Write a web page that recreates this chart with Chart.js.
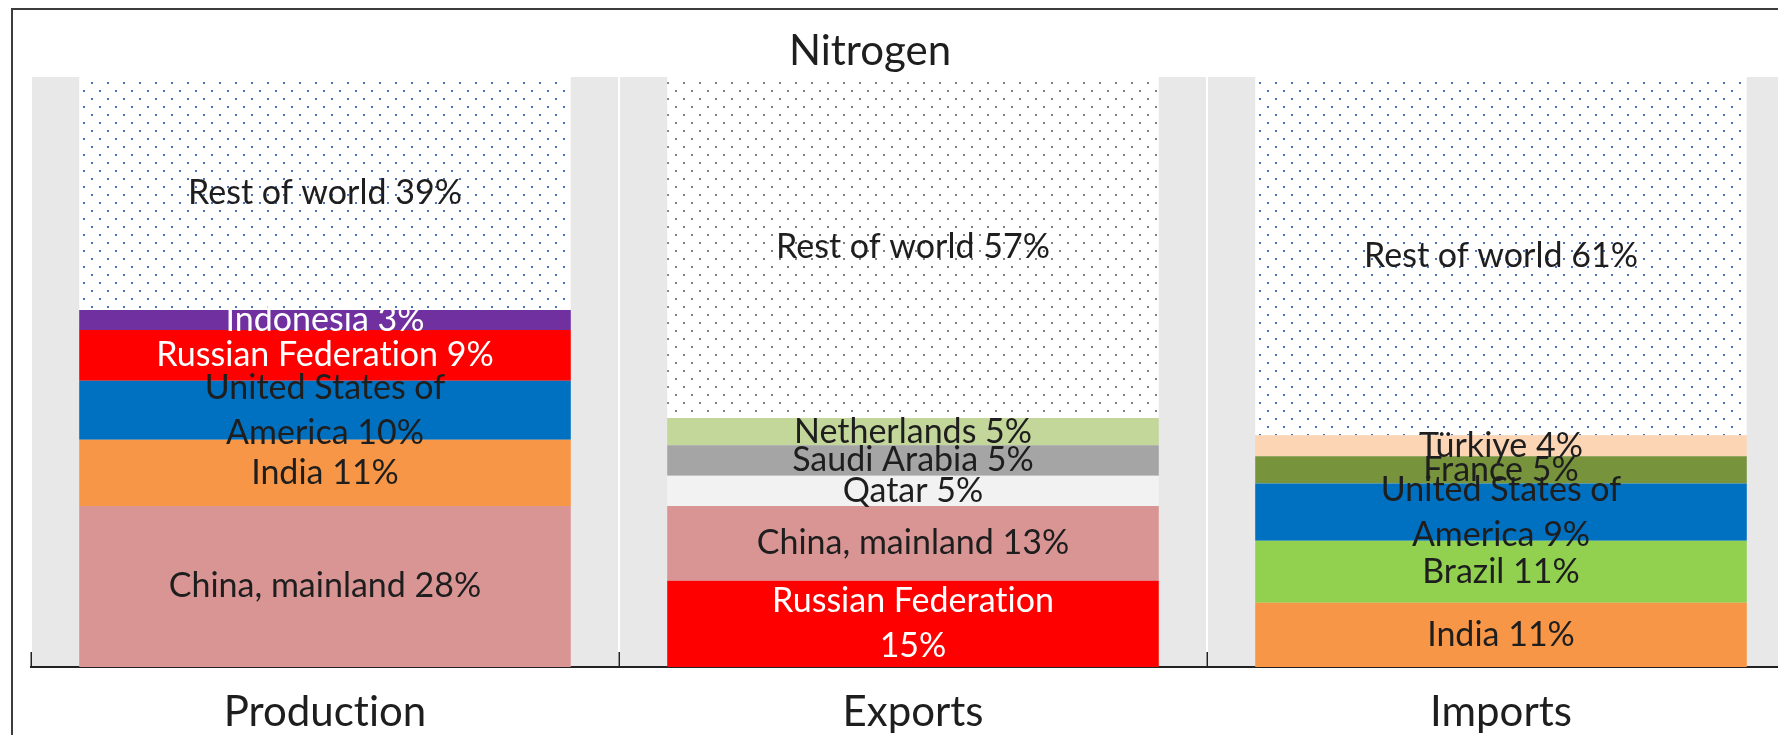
<!DOCTYPE html>
<html><head><meta charset="utf-8">
<script src="https://cdn.jsdelivr.net/npm/chart.js@4.4.1/dist/chart.umd.min.js"></script>
<style>
html,body{margin:0;padding:0;background:#fff;overflow:hidden;width:1778px;height:735px;}
#frame{position:absolute;left:11px;top:8px;width:2000px;height:2000px;border-left:2px solid #3c3c3c;border-top:2px solid #3c3c3c;}
#wrap{position:absolute;left:0;top:0;width:1806px;height:735px;}
</style></head><body>
<div id="frame"></div>
<div id="wrap"><canvas id="c" width="1806" height="735"></canvas></div>
<script>
const chartTitle = "Nitrogen";
const categories = ["Production", "Exports", "Imports"];

// segments listed bottom -> top, shares in % of total
const productionShares = [27.3, 11.2, 10.0, 8.6, 3.4, 39.5];
const productionLabels = ["China, mainland 28%", "India 11%", "United States of\nAmerica 10%", "Russian Federation 9%", "Indonesia 3%", "Rest of world 39%"];
const productionColors = ["#D99594", "#F79646", "#0070C0", "#FF0000", "#7030A0", "dots-blue"];
const productionTextColors = ["#1e1e1e", "#1e1e1e", "#1e1e1e", "#ffffff", "#ffffff", "#1e1e1e"];

const exportShares = [14.6, 12.7, 5.1, 5.2, 4.6, 57.8];
const exportLabels = ["Russian Federation\n15%", "China, mainland 13%", "Qatar 5%", "Saudi Arabia 5%", "Netherlands 5%", "Rest of world 57%"];
const exportColors = ["#FF0000", "#D99594", "#F2F2F2", "#A5A5A5", "#C4D79B", "dots-gray"];
const exportTextColors = ["#ffffff", "#1e1e1e", "#1e1e1e", "#1e1e1e", "#1e1e1e", "#1e1e1e"];

const importShares = [10.9, 10.5, 9.7, 4.6, 3.6, 60.7];
const importLabels = ["India 11%", "Brazil 11%", "United States of\nAmerica 9%", "France 5%", "Türkiye 4%", "Rest of world 61%"];
const importColors = ["#F79646", "#92D050", "#0070C0", "#77933C", "#FCD5B5", "dots-blue"];
const importTextColors = ["#1e1e1e", "#1e1e1e", "#1e1e1e", "#1e1e1e", "#1e1e1e", "#1e1e1e"];

const FONT = "Lato";
// avoid the "ti" ligature of Lato (the original font has none)
const noLig = s => s.replace(/ti/g, 't\u200Ci').replace(/fi/g, 'f\u200Ci');

function dotPattern(ctx, color) {
  const c = document.createElement('canvas');
  c.width = 16; c.height = 16;
  const g = c.getContext('2d');
  g.fillStyle = '#ffffff'; g.fillRect(0, 0, 16, 16);
  g.fillStyle = color;
  g.fillRect(11, 2, 2, 2);
  g.fillRect(3, 10, 2, 2);
  return ctx.createPattern(c, 'repeat');
}

function build() {
  const canvas = document.getElementById('c');
  const ctx = canvas.getContext('2d');
  const patterns = {
    'dots-blue': dotPattern(ctx, '#4472C4'),
    'dots-gray': dotPattern(ctx, '#7F7F7F')
  };
  const fill = c => patterns[c] || c;

  const shares = [productionShares, exportShares, importShares];
  const labels = [productionLabels, exportLabels, importLabels];
  const colors = [productionColors, exportColors, importColors];
  const textColors = [productionTextColors, exportTextColors, importTextColors];

  const datasets = [];
  for (let i = 0; i < productionShares.length; i++) {
    datasets.push({
      label: 'level ' + i,
      data: shares.map(s => s[i]),
      backgroundColor: colors.map(c => fill(c[i])),
      borderWidth: 0,
      barPercentage: 0.836,
      categoryPercentage: 1.0
    });
  }

  const plotBg = {
    id: 'plotBg',
    beforeDraw(chart) {
      const { ctx, chartArea: a } = chart;
      ctx.save();
      ctx.fillStyle = '#E8E8E8';
      ctx.fillRect(a.left, a.top, a.right - a.left, a.bottom - a.top);
      ctx.restore();
    }
  };

  const segLabels = {
    id: 'segLabels',
    afterDatasetsDraw(chart) {
      const { ctx } = chart;
      ctx.save();
      ctx.font = '34px ' + FONT;
      ctx.textAlign = 'center';
      ctx.textBaseline = 'middle';
      const lh = 45;
      chart.data.datasets.forEach((ds, i) => {
        const meta = chart.getDatasetMeta(i);
        meta.data.forEach((bar, j) => {
          const lines = labels[j][i].split('\n');
          const cy = (bar.y + bar.base) / 2;
          ctx.fillStyle = textColors[j][i];
          lines.forEach((ln, k) => {
            ctx.fillText(noLig(ln), bar.x, cy + (k - (lines.length - 1) / 2) * lh);
          });
        });
      });
      ctx.restore();
    }
  };

  const innerTicks = {
    id: 'innerTicks',
    afterDraw(chart) {
      const { ctx, chartArea: a } = chart;
      const xs = chart.scales.x;
      const band = xs.getPixelForValue(1) - xs.getPixelForValue(0);
      ctx.save();
      ctx.strokeStyle = '#222222';
      ctx.lineWidth = 1.5;
      for (let k = 0; k <= categories.length; k++) {
        const x = Math.round(xs.getPixelForValue(0) - band / 2 + k * band) + 0.25;
        ctx.beginPath();
        ctx.moveTo(x, a.bottom - 15);
        ctx.lineTo(x, a.bottom);
        ctx.stroke();
      }
      // title
      ctx.fillStyle = '#1e1e1e';
      ctx.font = '42px ' + FONT;
      ctx.textAlign = 'center';
      ctx.textBaseline = 'middle';
      ctx.fillText(chartTitle, 870, 51);
      ctx.restore();
    }
  };

  new Chart(ctx, {
    type: 'bar',
    data: { labels: categories, datasets },
    options: {
      responsive: false,
      animation: false,
      events: [],
      layout: { padding: { left: 31, right: 11, top: 77, bottom: 0 } },
      plugins: { legend: { display: false }, title: { display: false }, tooltip: { enabled: false } },
      scales: {
        x: {
          stacked: true,
          offset: true,
          grid: { display: true, offset: true, color: '#ffffff', lineWidth: 2, drawTicks: false },
          border: { display: true, color: '#222222', width: 2 },
          ticks: {
            color: '#1e1e1e', font: { family: FONT, size: 42 }, padding: 20,
            callback: function (v, i) { return noLig(categories[i]); }
          },
          afterFit(scale) { scale.height = 68; }
        },
        y: {
          stacked: true,
          display: false,
          min: 0,
          max: 100
        }
      }
    },
    plugins: [plotBg, segLabels, innerTicks]
  });
}

if (document.fonts && document.fonts.load) {
  Promise.all([document.fonts.load('34px Lato'), document.fonts.load('42px Lato')]).then(build, build);
} else build();
</script>
</body></html>
